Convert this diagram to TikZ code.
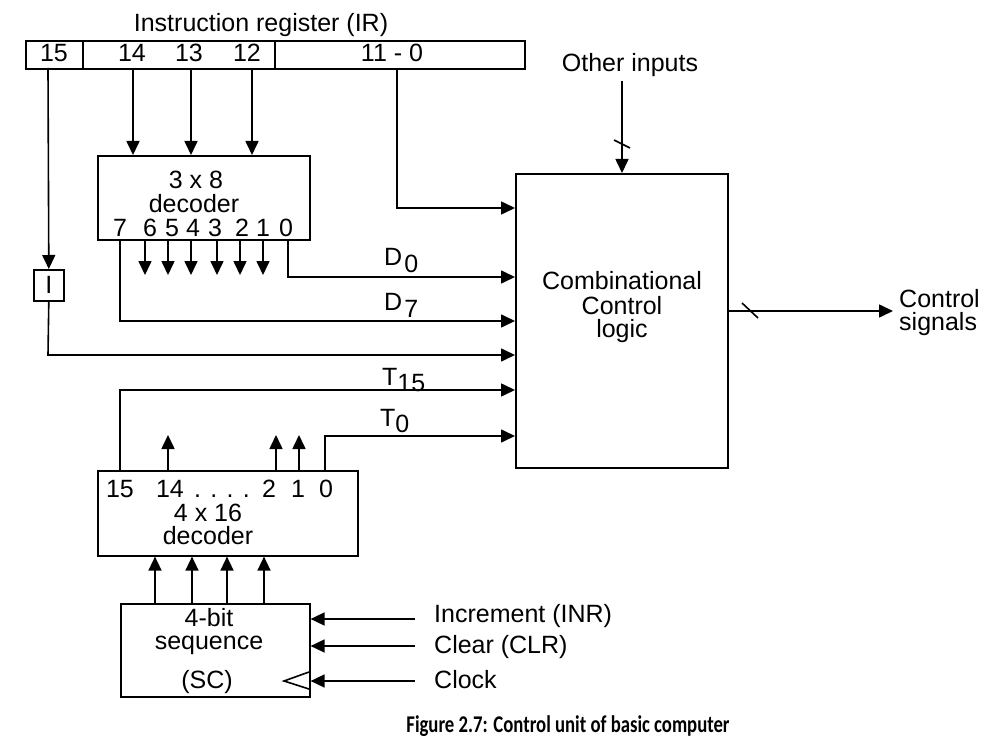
\documentclass[tikz,border=0pt]{standalone}
\usepackage{fontspec}
\setmainfont{Liberation Sans}
\newfontfamily\capfont{Carlito}
\usetikzlibrary{arrows.meta}
\begin{document}
\begin{tikzpicture}[x=1pt,y=-1pt,
  wire/.style={line width=1.6pt},
  arr/.style={wire,-{Triangle[length=14pt,width=13pt]}},
  box/.style={draw,line width=1.6pt,inner sep=0pt,anchor=north west},
  lbl/.style={inner sep=0pt,anchor=base,font=\fontsize{25}{27}\selectfont},
  lbll/.style={lbl,anchor=base west}]
\useasboundingbox (0,0) rectangle (996,741);

% boxes
\node[box,minimum width=499pt,minimum height=28pt] (ir) at (25,40) {};
\draw[wire] (83,40) -- (83,68) (275,40) -- (275,68);
\node[box,minimum width=212pt,minimum height=84pt] (dec3) at (97,155) {};
\node[box,minimum width=30pt,minimum height=31pt] (ibox) at (33,269) {};
\node[box,minimum width=212pt,minimum height=294pt] (ccl) at (515,173) {};
\node[box,minimum width=260pt,minimum height=85pt] (dec4) at (97,470) {};
\node[box,minimum width=189pt,minimum height=93pt] (sc) at (120,603) {};

% IR texts
\node[lbl] (irt) at (261,32) {Instruction register (IR)};
\node[lbl] (ir15) at (54,62) {15};
\node[lbl] (ir14) at (132,62) {14};
\node[lbl] (ir13) at (189,62) {13};
\node[lbl] (ir12) at (247,62) {12};
\node[lbl] (ir110) at (392,62) {11 - 0};

% 3x8 decoder texts
\node[lbl] (d3a) at (196,189) {3 x 8};
\node[lbl] (d3b) at (194,212) {decoder};
\node[lbl] (o7) at (120,236) {7};
\node[lbl] (o6) at (150,236) {6};
\node[lbl] (o5) at (172,236) {5};
\node[lbl] (o4) at (193,236) {4};
\node[lbl] (o3) at (215,236) {3};
\node[lbl] (o2) at (242,236) {2};
\node[lbl] (o1) at (263,236) {1};
\node[lbl] (o0) at (286,236) {0};
\node[lbl] (itx) at (ibox.center) [anchor=center] {I};

% IR to decoder
\coordinate (p14) at (133,68);
\coordinate (p13) at (191,68);
\coordinate (p12) at (252,68);
\coordinate (p15) at (48,68);
\coordinate (p110) at (397,68);
\draw[arr] (p14) -- (p14 |- dec3.north);
\draw[arr] (p13) -- (p13 |- dec3.north);
\draw[arr] (p12) -- (p12 |- dec3.north);
\draw[arr] (p15) -- (ibox.north);
\coordinate (c110) at (397,208);
\draw[arr] (p110) -- (c110) -- (c110 -| ccl.west);

% decoder outputs
\foreach \x in {145,168,191,217,240,263} {
  \coordinate (dn\x) at (\x,239);
  \draw[arr] (dn\x) -- ++(0,36);
}
\coordinate (q0) at (288,239);
\coordinate (q0b) at (288,277);
\draw[arr] (q0) -- (q0b) -- (q0b -| ccl.west);
\coordinate (q7) at (120,239);
\coordinate (q7b) at (120,321);
\draw[arr] (q7) -- (q7b) -- (q7b -| ccl.west);
\node[lbll] (d0l) at (384,265) {D\kern2pt\raisebox{-7pt}{0}};
\node[lbll] (d7l) at (384,310) {D\kern2pt\raisebox{-7pt}{7}};

% I line
\coordinate (ib) at (48,355);
\draw[arr] (ibox.south) -- (ib) -- (ib -| ccl.west);

% other inputs
\node[lbl] (oth) at (630,72) {Other inputs};
\coordinate (othb) at (622,81);
\draw[arr] (othb) -- (othb |- ccl.north);
\draw[wire] (614,140) -- (630,148);

% combinational text
\node[lbl] (cc1) at (622,289) {Combinational};
\node[lbl] (cc2) at (622,314) {Control};
\node[lbl] (cc3) at (622,337) {logic};

% output
\coordinate (outs) at (727,311);
\coordinate (oute) at (893,311);
\draw[arr] (outs) -- (oute);
\draw[wire] (742,303) -- (758,318);
\node[lbll] (cs1) at (899,307) {Control};
\node[lbll] (cs2) at (899,330) {signals};

% 4x16 decoder
\node[lbl] (t15n) at (120,497) {15};
\node[lbl] (t14n) at (170,497) {14};
\node[lbl] (tdots) at (222,497) {. . . .};
\node[lbl] (t2n) at (269,497) {2};
\node[lbl] (t1n) at (298,497) {1};
\node[lbl] (t0n) at (326,497) {0};
\node[lbl] (d4a) at (208,521) {4 x 16};
\node[lbl] (d4b) at (208,544) {decoder};

\coordinate (r15) at (120,470);
\coordinate (r15b) at (120,390);
\draw[arr] (r15) -- (r15b) -- (r15b -| ccl.west);
\coordinate (r0) at (325,470);
\coordinate (r0b) at (325,436);
\draw[arr] (r0) -- (r0b) -- (r0b -| ccl.west);
\foreach \x in {168,276,299} {
  \coordinate (up\x) at (\x,470);
  \draw[arr] (up\x) -- ++(0,-35);
}
\node[lbll] (t15l) at (382,385) {T\raisebox{-6pt}{15}};
\node[lbll] (t0l) at (380,426) {T\raisebox{-6pt}{0}};

% SC
\foreach \x in {155,192,227,264} {
  \coordinate (s\x) at (\x,603);
  \draw[arr] (s\x) -- (s\x |- dec4.south);
}
\node[lbl] (sc1) at (209,626) {4-bit};
\node[lbl] (sc2) at (209,649) {sequence};
\node[lbl] (sc3) at (207,688) {(SC)};
\draw[wire,line join=miter] (309,672) -- (284,681) -- (309,689);

\coordinate (in1) at (415,619);
\coordinate (in2) at (415,646);
\coordinate (in3) at (415,681);
\draw[arr] (in1) -- (in1 -| sc.east);
\draw[arr] (in2) -- (in2 -| sc.east);
\draw[arr] (in3) -- (in3 -| sc.east);
\node[lbll] (inl1) at (434,622) {Increment (INR)};
\node[lbll] (inl2) at (434,653) {Clear (CLR)};
\node[lbll] (inl3) at (434,688) {Clock};

% caption
\node[anchor=base,inner sep=0pt,font=\capfont\bfseries\fontsize{24}{26}\selectfont] (cap) at (568,732) {\scalebox{0.78}[1]{Figure 2.7: Control unit of basic computer}};
\end{tikzpicture}
\end{document}
